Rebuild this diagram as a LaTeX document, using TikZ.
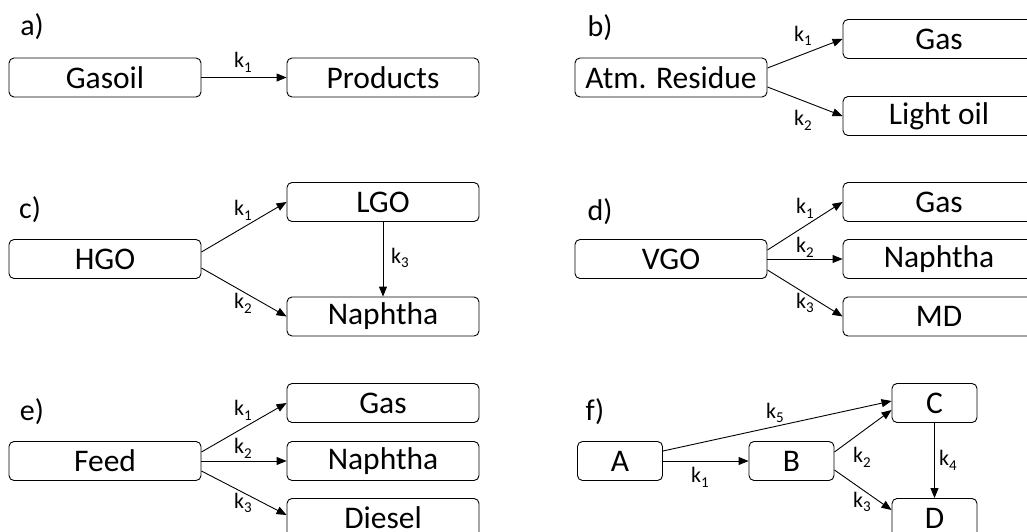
\documentclass[tikz,border=0pt]{standalone}
\usepackage{fontspec}
\setmainfont{Carlito}
\usetikzlibrary{arrows.meta}
\newcommand{\rate}[1]{k\raisebox{-0.45ex}{\fontsize{15}{16}\selectfont #1}}
\begin{document}
\begin{tikzpicture}[x=1pt,y=-1pt,
  box/.style={draw,rounded corners=5pt,line width=0.9pt,minimum height=39pt,inner sep=0pt,
    font=\fontsize{31.5}{33}\selectfont},
  wide/.style={box,minimum width=192pt},
  narrow/.style={box,minimum width=85pt},
  arr/.style={-{Triangle[length=10pt,width=8pt]},line width=0.9pt},
  lab/.style={inner sep=0pt,font=\fontsize{22}{24}\selectfont},
  panel/.style={inner sep=0pt,font=\fontsize{30}{32}\selectfont}]
\useasboundingbox (0,0) rectangle (1027,532);
\clip (0,0) rectangle (1027,532);

% a) single lumped reaction
\node[panel] (pa) at (32,27) {a)};
\node[wide] (gasoil) at (105,77.5) {Gasoil};
\node[wide] (prod) at (383,77.5) {Products};
\draw[arr] (gasoil.east) -- (prod.west);
\node[lab] (ka1) at (243,62) {\rate{1}};

% b) two parallel products
\node[panel] (pb) at (600,28) {b)};
\node[wide] (res) at (671,77.5) {Atm. Residue};
\node[wide] (gasb) at (939,39) {Gas};
\node[wide] (lob) at (939,116) {Light oil};
\draw[arr] ([yshift=9.5pt]res.east) -- (gasb.west);
\draw[arr] ([yshift=-9.5pt]res.east) -- (lob.west);
\node[lab] (kb1) at (803,36) {\rate{1}};
\node[lab] (kb2) at (803,120) {\rate{2}};

% c) series-parallel scheme
\node[panel] (pc) at (30,210) {c)};
\node[wide] (hgo) at (105,259) {HGO};
\node[wide] (lgo) at (383,202) {LGO};
\node[wide] (napc) at (383,316.5) {Naphtha};
\draw[arr] ([yshift=7pt]hgo.east) -- (lgo.west);
\draw[arr] ([yshift=-9pt]hgo.east) -- (napc.west);
\draw[arr] (lgo.south) -- (napc.north);
\node[lab] (kc1) at (243,210) {\rate{1}};
\node[lab] (kc2) at (243,303) {\rate{2}};
\node[lab] (kc3) at (400,258) {\rate{3}};

% d) three parallel products
\node[panel] (pd) at (600,212) {d)};
\node[wide] (vgo) at (671,259) {VGO};
\node[wide] (gasd) at (939,202) {Gas};
\node[wide] (napd) at (939,259) {Naphtha};
\node[wide] (md) at (939,316.5) {MD};
\draw[arr] ([yshift=9pt]vgo.east) -- (gasd.west);
\draw[arr] (vgo.east) -- (napd.west);
\draw[arr] ([yshift=-11pt]vgo.east) -- (md.west);
\node[lab] (kd1) at (805,208) {\rate{1}};
\node[lab] (kd2) at (805,247) {\rate{2}};
\node[lab] (kd3) at (805,303) {\rate{3}};

% e) three parallel products
\node[panel] (pe) at (32,412) {e)};
\node[wide] (feed) at (105,461) {Feed};
\node[wide] (gase) at (383,403) {Gas};
\node[wide] (nape) at (383,461) {Naphtha};
\node[wide] (dies) at (383,518) {Diesel};
\draw[arr] ([yshift=9pt]feed.east) -- (gase.west);
\draw[arr] (feed.east) -- (nape.west);
\draw[arr] ([yshift=-10pt]feed.east) -- ([yshift=3pt]dies.west);
\node[lab] (ke1) at (243,410) {\rate{1}};
\node[lab] (ke2) at (243,448) {\rate{2}};
\node[lab] (ke3) at (243,503) {\rate{3}};

% f) general lumped network
\node[panel] (pf) at (595,412) {f)};
\node[narrow] (A) at (620,461) {A};
\node[narrow] (B) at (791.5,461) {B};
\node[narrow] (C) at (934.5,403) {C};
\node[narrow] (D) at (934.5,518) {D};
\draw[arr] (A.east) -- (B.west);
\draw[arr] ([yshift=10pt]A.east) -- ([yshift=2pt]C.west);
\draw[arr] ([yshift=9pt]B.east) -- ([yshift=-7pt]C.west);
\draw[arr] ([yshift=-9pt]B.east) -- ([yshift=8pt]D.west);
\draw[arr] (C.south) -- (D.north);
\node[lab] (kf1) at (700,477) {\rate{1}};
\node[lab] (kf5) at (775,413) {\rate{5}};
\node[lab] (kf2) at (862,457) {\rate{2}};
\node[lab] (kf3) at (862,502) {\rate{3}};
\node[lab] (kf4) at (948,460) {\rate{4}};
\end{tikzpicture}
\end{document}
